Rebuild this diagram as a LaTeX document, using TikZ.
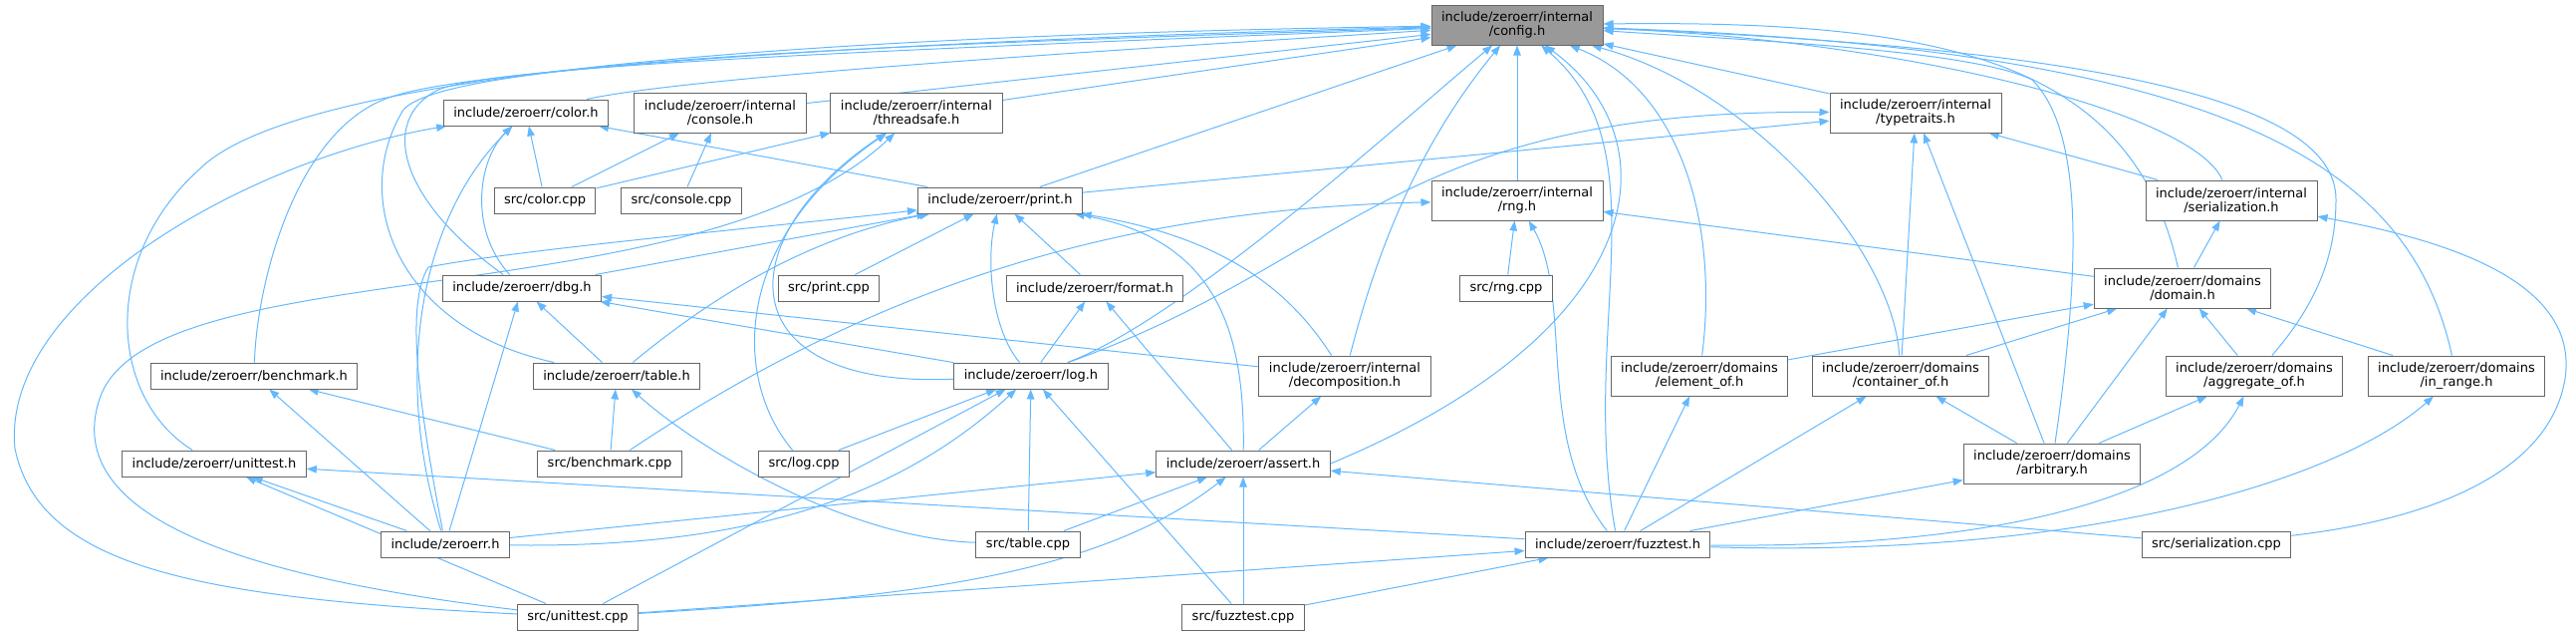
\documentclass[tikz,border=0pt]{standalone}
\usepackage{fontspec}
\setmainfont{DejaVu Sans}
\usetikzlibrary{arrows.meta}

\definecolor{edgeblue}{HTML}{63B8FF}
\definecolor{framegray}{HTML}{666666}
\definecolor{rootgray}{HTML}{999999}

\pgfdeclarelayer{background}
\pgfsetlayers{background,main}

\tikzset{
  file/.style={draw=framegray, fill=white, line width=1pt, inner xsep=10pt,
    inner ysep=0pt, minimum height=26pt, align=center,
    font=\fontsize{13}{14.5}\selectfont},
  twoline/.style={file, minimum height=40pt},
  root/.style={twoline, fill=rootgray},
  dep/.style={draw=edgeblue, line width=1pt,
    -{Triangle[length=10pt,width=7.5pt]}}
}

\begin{document}
\begin{tikzpicture}[x=1pt,y=-1pt]

    \useasboundingbox (0,0) rectangle (2586,637);

    % Root header
    \node[root] (config) at (1523,25) {include/zeroerr/internal\\/config.h};

    % Second row
    \node[file] (color) at (528,113) {include/zeroerr/color.h};
    \node[twoline] (console) at (723,113) {include/zeroerr/internal\\/console.h};
    \node[twoline] (threadsafe) at (920,113) {include/zeroerr/internal\\/threadsafe.h};
    \node[twoline] (typetraits) at (1923,113) {include/zeroerr/internal\\/typetraits.h};

    % Third row
    \node[file] (colorcpp) at (547,201) {src/color.cpp};
    \node[file] (consolecpp) at (684,201) {src/console.cpp};
    \node[file] (print) at (1004,201) {include/zeroerr/print.h};
    \node[twoline] (rng) at (1523,201) {include/zeroerr/internal\\/rng.h};
    \node[twoline] (serialization) at (2240,201) {include/zeroerr/internal\\/serialization.h};

    % Fourth row
    \node[file] (dbg) at (524,289) {include/zeroerr/dbg.h};
    \node[file] (printcpp) at (832,289) {src/print.cpp};
    \node[file] (format) at (1099,289) {include/zeroerr/format.h};
    \node[file] (rngcpp) at (1512,289) {src/rng.cpp};
    \node[twoline] (domain) at (2191,289) {include/zeroerr/domains\\/domain.h};

    % Fifth row
    \node[file] (benchmark) at (255,377) {include/zeroerr/benchmark.h};
    \node[file] (table) at (619,377) {include/zeroerr/table.h};
    \node[file] (log) at (1035,377) {include/zeroerr/log.h};
    \node[twoline] (decomposition) at (1350,377) {include/zeroerr/internal\\/decomposition.h};
    \node[twoline] (elementof) at (1706,377) {include/zeroerr/domains\\/element\_of.h};
    \node[twoline] (containerof) at (1908,377) {include/zeroerr/domains\\/container\_of.h};
    \node[twoline] (aggregateof) at (2263,377) {include/zeroerr/domains\\/aggregate\_of.h};
    \node[twoline] (inrange) at (2466,377) {include/zeroerr/domains\\/in\_range.h};

    % Sixth row
    \node[file] (unittest) at (215,465) {include/zeroerr/unittest.h};
    \node[file] (benchmarkcpp) at (612,465) {src/benchmark.cpp};
    \node[file] (logcpp) at (807,465) {src/log.cpp};
    \node[file] (assert) at (1248,465) {include/zeroerr/assert.h};
    \node[twoline] (arbitrary) at (2060,465) {include/zeroerr/domains\\/arbitrary.h};

    % Seventh row
    \node[file] (zeroerr) at (447,546) {include/zeroerr.h};
    \node[file] (tablecpp) at (1032,546) {src/table.cpp};
    \node[file] (fuzztest) at (1624,546) {include/zeroerr/fuzztest.h};
    \node[file] (serializationcpp) at (2225,546) {src/serialization.cpp};

    % Bottom row
    \node[file] (unittestcpp) at (580,619) {src/unittest.cpp};
    \node[file] (fuzztestcpp) at (1248,619) {src/fuzztest.cpp};

    \begin{pgfonlayer}{background}

    % Plain include edges
    \foreach \a/\b in {console/config, threadsafe/config, print/config, rng/config,
      typetraits/config, colorcpp/color, print/color, colorcpp/console,
      consolecpp/console, colorcpp/threadsafe, print/typetraits,
      containerof/typetraits, arbitrary/typetraits, serialization/typetraits,
      dbg/print, printcpp/print, format/print, rngcpp/rng, domain/rng,
      domain/serialization, zeroerr/dbg, table/dbg, log/dbg, decomposition/dbg,
      zeroerr/benchmark, benchmarkcpp/benchmark, benchmarkcpp/table,
      zeroerr/unittest, unittestcpp/unittest, fuzztest/unittest,
      log/format, assert/format, logcpp/log, unittestcpp/log, tablecpp/log,
      fuzztestcpp/log, assert/decomposition, zeroerr/assert, tablecpp/assert,
      fuzztestcpp/assert, serializationcpp/assert, elementof/domain,
      containerof/domain, arbitrary/domain, aggregateof/domain, inrange/domain,
      fuzztest/elementof, fuzztest/containerof, arbitrary/containerof,
      fuzztest/arbitrary, arbitrary/aggregateof, unittestcpp/fuzztest,
      fuzztestcpp/fuzztest}
    \draw[dep] (\a) -- (\b);

    % Long edges into config.h from the left
    \draw[dep] (color) .. controls (700,75) and (1200,45) .. (config);
    \draw[dep] (dbg) .. controls (400,200) and (380,120) .. (440,90)
      .. controls (500,65) and (900,50) .. (config);
    \draw[dep] (benchmark) .. controls (258,280) and (300,120) .. (400,95)
      .. controls (480,70) and (900,40) .. (config);
    \draw[dep] (unittest) .. controls (110,400) and (100,260) .. (200,170)
      .. controls (260,110) and (500,40) .. (config);
    \draw[dep] (table) .. controls (400,330) and (350,200) .. (405,110)
      .. controls (450,60) and (900,45) .. (config);
    \draw[dep] (log) .. controls (1190,320) and (1420,110) .. (config);
    \draw[dep] (decomposition) .. controls (1380,260) and (1420,150) .. (config);
    \draw[dep] (assert.east) .. controls (1660,330) and (1680,140) .. (config);
    \draw[dep] (fuzztest) .. controls (1585,330) and (1670,150) .. (config);

    % Long edges into config.h from the right
    \draw[dep] (elementof) .. controls (1725,230) and (1690,90) .. (config);
    \draw[dep] (containerof) .. controls (1900,250) and (1760,90) .. (config);
    \draw[dep] (arbitrary) .. controls (2090,260) and (2090,130) .. (2040,80)
      .. controls (1980,50) and (1750,40) .. (config);
    \draw[dep] (domain) .. controls (2140,60) and (1950,20) .. (config);
    \draw[dep] (serialization) .. controls (2200,110) and (1900,40) .. (config);
    \draw[dep] (aggregateof) .. controls (2330,300) and (2345,250) .. (2345,200)
      .. controls (2345,110) and (2150,50) .. (config);
    \draw[dep] (inrange) .. controls (2420,170) and (2250,50) .. (config);

    % color.h and threadsafe.h
    \draw[dep] (dbg) .. controls (470,230) and (480,160) .. (color);
    \draw[dep] (zeroerr) .. controls (395,380) and (420,220) .. (color);
    \draw[dep] (unittestcpp) .. controls (200,600) and (40,570) .. (15,450)
      .. controls (0,300) and (250,160) .. (color);
    \draw[dep] (unittestcpp) .. controls (250,580) and (60,520) .. (100,400)
      .. controls (150,250) and (700,320) .. (threadsafe);
    \draw[dep] (logcpp) .. controls (735,380) and (735,240) .. (threadsafe);
    \draw[dep] (log) .. controls (730,390) and (730,240) .. (threadsafe);

    % print.h, typetraits.h and rng.h
    \draw[dep] (log) .. controls (1360,260) and (1400,110) .. (typetraits);
    \draw[dep] (zeroerr) .. controls (415,380) and (410,300) .. (430,268)
      .. controls (520,250) and (800,225) .. (print);
    \draw[dep] (table) .. controls (700,310) and (800,240) .. (print);
    \draw[dep] (log) .. controls (995,330) and (990,260) .. (print);
    \draw[dep] (assert) .. controls (1250,330) and (1220,240) .. (print);
    \draw[dep] (decomposition) .. controls (1300,300) and (1240,240) .. (print);
    \draw[dep] (fuzztest) .. controls (1540,440) and (1580,300) .. (rng);
    \draw[dep] (benchmarkcpp) .. controls (860,300) and (1100,210) .. (rng);

    % Remaining curved edges
    \draw[dep] (serializationcpp) .. controls (2450,520) and (2560,470) .. (2575,380)
      .. controls (2590,280) and (2450,240) .. (serialization);
    \draw[dep] (tablecpp) .. controls (850,540) and (700,450) .. (table);
    \draw[dep] (zeroerr) .. controls (750,550) and (900,500) .. (log);
    \draw[dep] (unittestcpp) .. controls (900,600) and (1100,580) .. (assert);
    \draw[dep] (fuzztest) .. controls (2000,550) and (2200,500) .. (aggregateof);
    \draw[dep] (fuzztest) .. controls (2100,560) and (2350,480) .. (inrange);

    \end{pgfonlayer}

  \end{tikzpicture}
\end{document}
